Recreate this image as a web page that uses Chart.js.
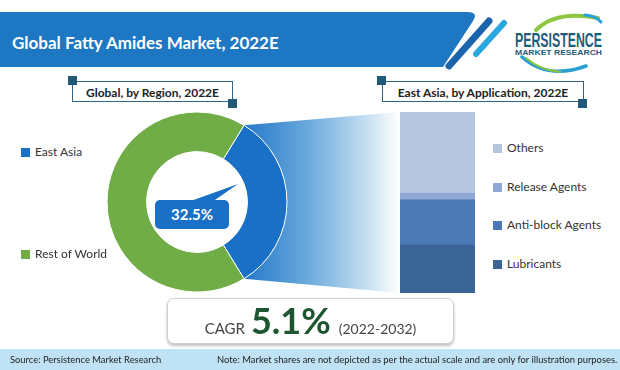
<!DOCTYPE html>
<html>
<head>
<meta charset="utf-8">
<script src="https://cdn.jsdelivr.net/npm/chart.js@4.4.0/dist/chart.umd.min.js"></script>
<style>
  html, body { margin: 0; padding: 0; }
  body { width: 620px; height: 370px; position: relative; overflow: hidden; background: #fff;
         font-family: Lato, "Open Sans", sans-serif; color: #222; }
  .abs { position: absolute; }
  #title { left: 12px; top: 32px; color: #fff; font-weight: bold; font-size: 17px; white-space: nowrap; }
  .box { border: 1.5px solid #2f6483; height: 21px; line-height: 21px; text-align: center;
         font-weight: bold; font-size: 12px; color: #222; box-sizing: border-box; }
  .sq { width: 9px; height: 9px; background: #205a78; }
  .leg { font-size: 12px; color: #333; white-space: nowrap; line-height: 14px; }
  .leg i { display: inline-block; width: 9px; height: 9px; margin-right: 5px; vertical-align: -0.5px; }
  #callout { left: 155px; top: 200px; width: 74px; height: 29px; border-radius: 5px; background: #1a6fc6;
             color: #fff; font-weight: bold; font-size: 15px; line-height: 29px; text-align: center; }
  #cagr { left: 167px; top: 298px; width: 287px; height: 46px; border: 1.5px solid #cfcfcf; border-radius: 7px;
          box-sizing: border-box; box-shadow: 0 2px 3px rgba(0,0,0,0.25); background: #fff;
          display: flex; align-items: baseline; justify-content: center; }
  #cagr .lbl { font-size: 15px; color: #444; margin-right: 6px; }
  #cagr .val { font-size: 36px; font-weight: bold; color: #1e5631; margin-right: 8px; line-height: 42px; }
  #cagr .per { font-size: 14px; color: #444; }
  #footer { left: 0; top: 349px; width: 620px; height: 21px; background: #bfe3f4; font-size: 9.4px; color: #222; }
  #footer span { position: absolute; top: 5px; white-space: nowrap; }
</style>
</head>
<body>

<!-- header band, stripes and logo -->
<svg class="abs" style="left:0;top:0" width="620" height="80">
  <path d="M0,12 H467 Q479,12 473,21 L443,67 H0 Z" fill="#1e77c3"/>
  <line x1="489" y1="21" x2="449" y2="66" stroke="#1b63ad" stroke-width="7" stroke-linecap="round"/>
  <line x1="504" y1="23" x2="476" y2="54" stroke="#2aa7e0" stroke-width="6" stroke-linecap="round"/>
  <path d="M536,30 Q556,10 598,18" fill="none" stroke="#8cc63f" stroke-width="4" stroke-linecap="round"/>
  <path d="M585,15 Q596,16 601,22" fill="none" stroke="#2aa0d8" stroke-width="3" stroke-linecap="round"/>
  <path d="M522,57 Q548,80 586,66" fill="none" stroke="#2a9fd0" stroke-width="3.5" stroke-linecap="round"/>
  <path d="M526,58 Q540,70 560,72" fill="none" stroke="#8cc63f" stroke-width="2" stroke-linecap="round"/>
  <text x="515" y="47" textLength="87" lengthAdjust="spacingAndGlyphs" font-family="Liberation Sans Narrow, Liberation Sans, sans-serif"
        font-weight="bold" font-size="21" fill="#1f5c79">PERSISTENCE</text>
  <text x="515" y="55" textLength="87" lengthAdjust="spacingAndGlyphs" font-family="Liberation Sans, sans-serif"
        font-weight="bold" font-size="7" fill="#1f5c79">MARKET RESEARCH</text>
</svg>
<div id="title" class="abs">Global Fatty Amides Market, 2022E</div>

<!-- section labels -->
<div class="abs box" style="left:72px;top:81px;width:161px;">Global, by Region, 2022E</div>
<div class="abs sq" style="left:68px;top:76px;"></div>
<div class="abs sq" style="left:228px;top:99px;"></div>
<div class="abs box" style="left:382px;top:81px;width:202px;">East Asia, by Application, 2022E</div>
<div class="abs sq" style="left:377px;top:76px;"></div>
<div class="abs sq" style="left:578px;top:99px;"></div>

<canvas id="regionChart" class="abs" style="left:97px;top:102px;"></canvas>
<canvas id="appChart" class="abs" style="left:400px;top:112px;"></canvas>

<div id="regionLegend"></div>
<div id="appLegend"></div>

<svg class="abs" style="left:0;top:0" width="620" height="370" pointer-events="none">
  <polygon points="188,202 238,184 212,202" fill="#1a6fc6"/>
</svg>
<div id="callout" class="abs"></div>

<div id="cagr" class="abs"><span class="lbl">CAGR</span><span class="val" id="cagrVal"></span><span class="per" id="cagrPer"></span></div>

<div id="footer" class="abs">
  <span style="left:10px;">Source: Persistence Market Research</span>
  <span style="left:217px;">Note: Market shares are not depicted as per the actual scale and are only for illustration purposes.</span>
</div>

<script>
// ---------------- data ----------------
const regionLabels = ['East Asia', 'Rest of World'];
const regionShares = [32.5, 67.5];
const regionColors = ['#1a6fc6', '#70ad47'];

const appLabels = ['Lubricants', 'Anti-block Agents', 'Release Agents', 'Others'];
const appShares = [26.5, 25, 3.5, 45];
const appColors = ['#3b6596', '#4a79b6', '#8ea9d5', '#b5c4df'];

const cagrValue = 5.1;
const cagrPeriod = '(2022-2032)';

// ---------------- text bits ----------------
document.getElementById('callout').textContent = regionShares[0] + '%';
document.getElementById('cagrVal').textContent = cagrValue + '%';
document.getElementById('cagrPer').textContent = cagrPeriod;

// left legend (East Asia top, Rest of World bottom)
const regionLegendY = [145, 247];
let html = '';
regionLabels.forEach((l, i) => {
    html += `<div class="abs leg" style="left:21px;top:${regionLegendY[i]}px;"><i style="background:${regionColors[i]}"></i>${l}</div>`;
});
document.getElementById('regionLegend').innerHTML = html;

// right legend, top to bottom = reverse of stack order
const appLegendY = [257, 218, 180, 141];
html = '';
appLabels.forEach((l, i) => {
    html += `<div class="abs leg" style="left:493px;top:${appLegendY[i]}px;"><i style="background:${appColors[i]}"></i>${l}</div>`;
});
document.getElementById('appLegend').innerHTML = html;

// ---------------- doughnut ----------------
// gradient "zoom" band from the East Asia slice to the stacked bar
const funnel = {
    id: 'funnel',
    beforeDatasetsDraw(chart) {
        const arc = chart.getDatasetMeta(0).data[0];
        const p = arc.getProps(['x', 'y', 'startAngle', 'endAngle', 'outerRadius']);
        const ctx = chart.ctx;
        const x0 = p.x + p.outerRadius * Math.cos(p.startAngle);
        const y0 = p.y + p.outerRadius * Math.sin(p.startAngle);
        const x1 = p.x + p.outerRadius * Math.cos(p.endAngle);
        const y1 = p.y + p.outerRadius * Math.sin(p.endAngle);
        const right = chart.width;
        const g = ctx.createLinearGradient(x0, 0, right, 0);
        g.addColorStop(0, '#2778c9');
        g.addColorStop(0.4, '#68a8dc');
        g.addColorStop(0.75, '#bcdaf0');
        g.addColorStop(1, '#ffffff');
        ctx.save();
        ctx.fillStyle = g;
        ctx.beginPath();
        ctx.moveTo(x0, y0);
        ctx.lineTo(right, 10);
        ctx.lineTo(right, 191);
        ctx.lineTo(x1, y1);
        ctx.arc(p.x, p.y, p.outerRadius, p.endAngle, p.startAngle, true);
        ctx.closePath();
        ctx.fill();
        ctx.restore();
    }
};

const regionCanvas = document.getElementById('regionChart');
regionCanvas.width = 303;
regionCanvas.height = 201;
new Chart(regionCanvas, {
    type: 'doughnut',
    data: {
        labels: regionLabels,
        datasets: [{
            data: regionShares,
            backgroundColor: regionColors,
            borderColor: '#ffffff',
            borderWidth: 1
        }]
    },
    options: {
        responsive: false,
        animation: false,
        radius: 90,
        cutout: '56%',
        rotation: 90 - regionShares[0] * 1.8, // centre the East Asia slice at 3 o'clock
        layout: { padding: { left: 0, right: 103, top: 0, bottom: 1 } },
        plugins: { legend: { display: false }, tooltip: { enabled: false } }
    },
    plugins: [funnel]
});

// ---------------- stacked bar ----------------
const appCanvas = document.getElementById('appChart');
appCanvas.width = 75;
appCanvas.height = 181;
new Chart(appCanvas, {
    type: 'bar',
    data: {
        labels: ['East Asia'],
        datasets: appLabels.map((l, i) => ({
            label: l,
            data: [appShares[i]],
            backgroundColor: appColors[i],
            borderWidth: 0,
            barPercentage: 1,
            categoryPercentage: 1
        }))
    },
    options: {
        responsive: false,
        animation: false,
        layout: { padding: 0 },
        scales: {
            x: { stacked: true, display: false },
            y: { stacked: true, display: false, min: 0, max: 100 }
        },
        plugins: { legend: { display: false }, tooltip: { enabled: false } }
    }
});
</script>
</body>
</html>
